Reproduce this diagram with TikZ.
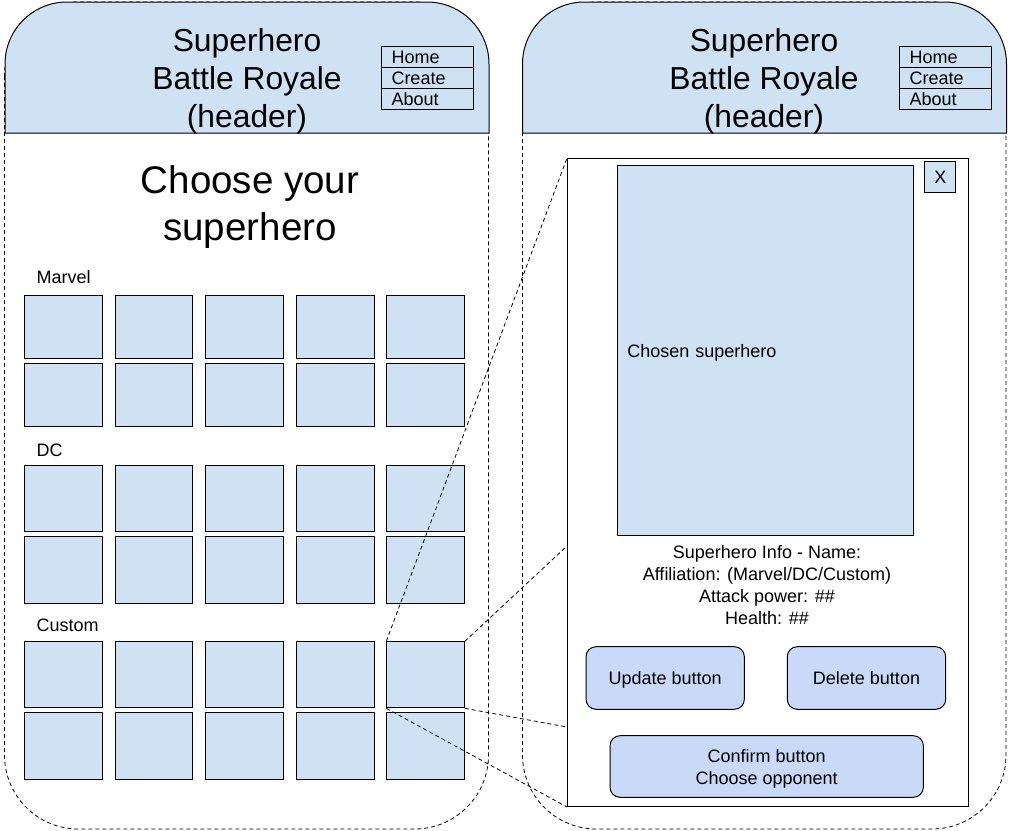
\documentclass[tikz,border=0pt]{standalone}
\usepackage{fontspec}
\setmainfont{Liberation Sans}
\definecolor{hb}{HTML}{CFE2F3}
\definecolor{bb}{HTML}{C9DAF8}
\begin{document}
\begin{tikzpicture}[x=1pt,y=-1pt,
  phone/.style={draw, dash pattern=on 4pt off 3pt, line width=0.8pt, rounded corners=74pt},
  hdr/.style={draw, fill=hb, line width=1pt},
  hdrtext/.style={align=center, font=\fontsize{31.8}{38}\selectfont},
  navrow/.style={draw, line width=1pt, anchor=north west, minimum height=21pt, inner ysep=0pt,
    inner xsep=10pt, text width=72pt, align=left, font=\fontsize{18}{18}\selectfont},
  small/.style={font=\fontsize{18}{22}\selectfont},
  tile/.style={draw, fill=hb, line width=1pt, anchor=north west, minimum width=77.5pt, inner sep=0pt},
  btn/.style={draw, fill=bb, line width=1pt, rounded corners=10pt, align=center, text depth=0pt,
    font=\fontsize{18}{22}\selectfont},
  zoomline/.style={draw, dash pattern=on 4pt off 3pt, line width=0.8pt}]
\useasboundingbox (0,0) rectangle (1012,830);

% ---------- left phone ----------
\draw[phone] (4.5,2) rectangle (488.5,829);
\path[hdr] (5,133) [rounded corners=62pt] -- (5,2) -- (489,2) [sharp corners] -- (489,133) -- cycle;
\node[hdrtext] (ltitle) at (247,81) {Superhero\\Battle Royale\\(header)};
\node[navrow] (lhome) at (381,46) {Home};
\node[navrow] (lcreate) at (381,67) {Create};
\node[navrow] (labout) at (381,88) {About};

\node[align=center, font=\fontsize{38.5}{47}\selectfont] (choose) at (250,207.5) {Choose your\\superhero};

\node[small, anchor=west, inner sep=0pt] (marvel) at (36.5,277) {Marvel};
\node[small, anchor=west, inner sep=0pt] (dc) at (36.5,450) {DC};
\node[small, anchor=west, inner sep=0pt] (custom) at (36.5,625) {Custom};

\foreach \name/\top/\h in {ma1/295/63.3, ma2/363.3/63, dc1/465/66, dc2/536/67, cu1/641.3/66, cu2/712.3/67}{
  \foreach \c/\x in {1/24, 2/114.5, 3/205.3, 4/296, 5/386.3}{
    \node[tile, minimum height=\h pt] (\name-\c) at (\x,\top) {};
  }
}

% ---------- right phone ----------
\draw[phone] (522.5,2) rectangle (1006,829);
\path[hdr] (522.5,133) [rounded corners=62pt] -- (522.5,2) -- (1006.5,2) [sharp corners] -- (1006.5,133) -- cycle;
\node[hdrtext] (rtitle) at (764,81) {Superhero\\Battle Royale\\(header)};
\node[navrow] (rhome) at (899,46) {Home};
\node[navrow] (rcreate) at (899,67) {Create};
\node[navrow] (rabout) at (899,88) {About};

\node[draw, fill=white, line width=1pt, anchor=north west, minimum width=401pt, minimum height=648pt, inner sep=0pt] (popup) at (567,158) {};
\node[draw, fill=hb, line width=1pt, anchor=north west, minimum width=295.4pt, minimum height=370pt,
  inner xsep=9.5pt, inner ysep=0pt, text width=276.4pt, align=left, text depth=0pt,
  font=\fontsize{18}{22}\selectfont] (hero) at (617.3,165) {Chosen superhero};
\node[draw, fill=hb, line width=1pt, anchor=north west, minimum width=31pt, minimum height=31pt, inner sep=0pt,
  font=\fontsize{18}{18}\selectfont] (close) at (924.3,161.3) {X};

\node[small, align=center] (info) at (767,585) {Superhero Info - Name:\\Affiliation: (Marvel/DC/Custom)\\Attack power: \#\#\\Health: \#\#};

\node[btn, minimum width=158.3pt, minimum height=62.6pt] (update) at (665.2,678) {Update button};
\node[btn, minimum width=158.4pt, minimum height=62.6pt] (delete) at (866.5,678) {Delete button};
\node[btn, minimum width=313.3pt, minimum height=61.6pt] (confirm) at (766.7,766.5) {Confirm button\\Choose opponent};

% ---------- zoom lines ----------
\coordinate (zA) at (popup.west |- 0,546);
\coordinate (zB) at (popup.west |- 0,727);
\path[zoomline] (cu1-5.north west) -- (popup.north west);
\path[zoomline] (cu1-5.north east) -- (zA);
\path[zoomline] (cu1-5.south east) -- (zB);
\path[zoomline] (cu1-5.south west) -- (popup.south west);
\end{tikzpicture}
\end{document}
